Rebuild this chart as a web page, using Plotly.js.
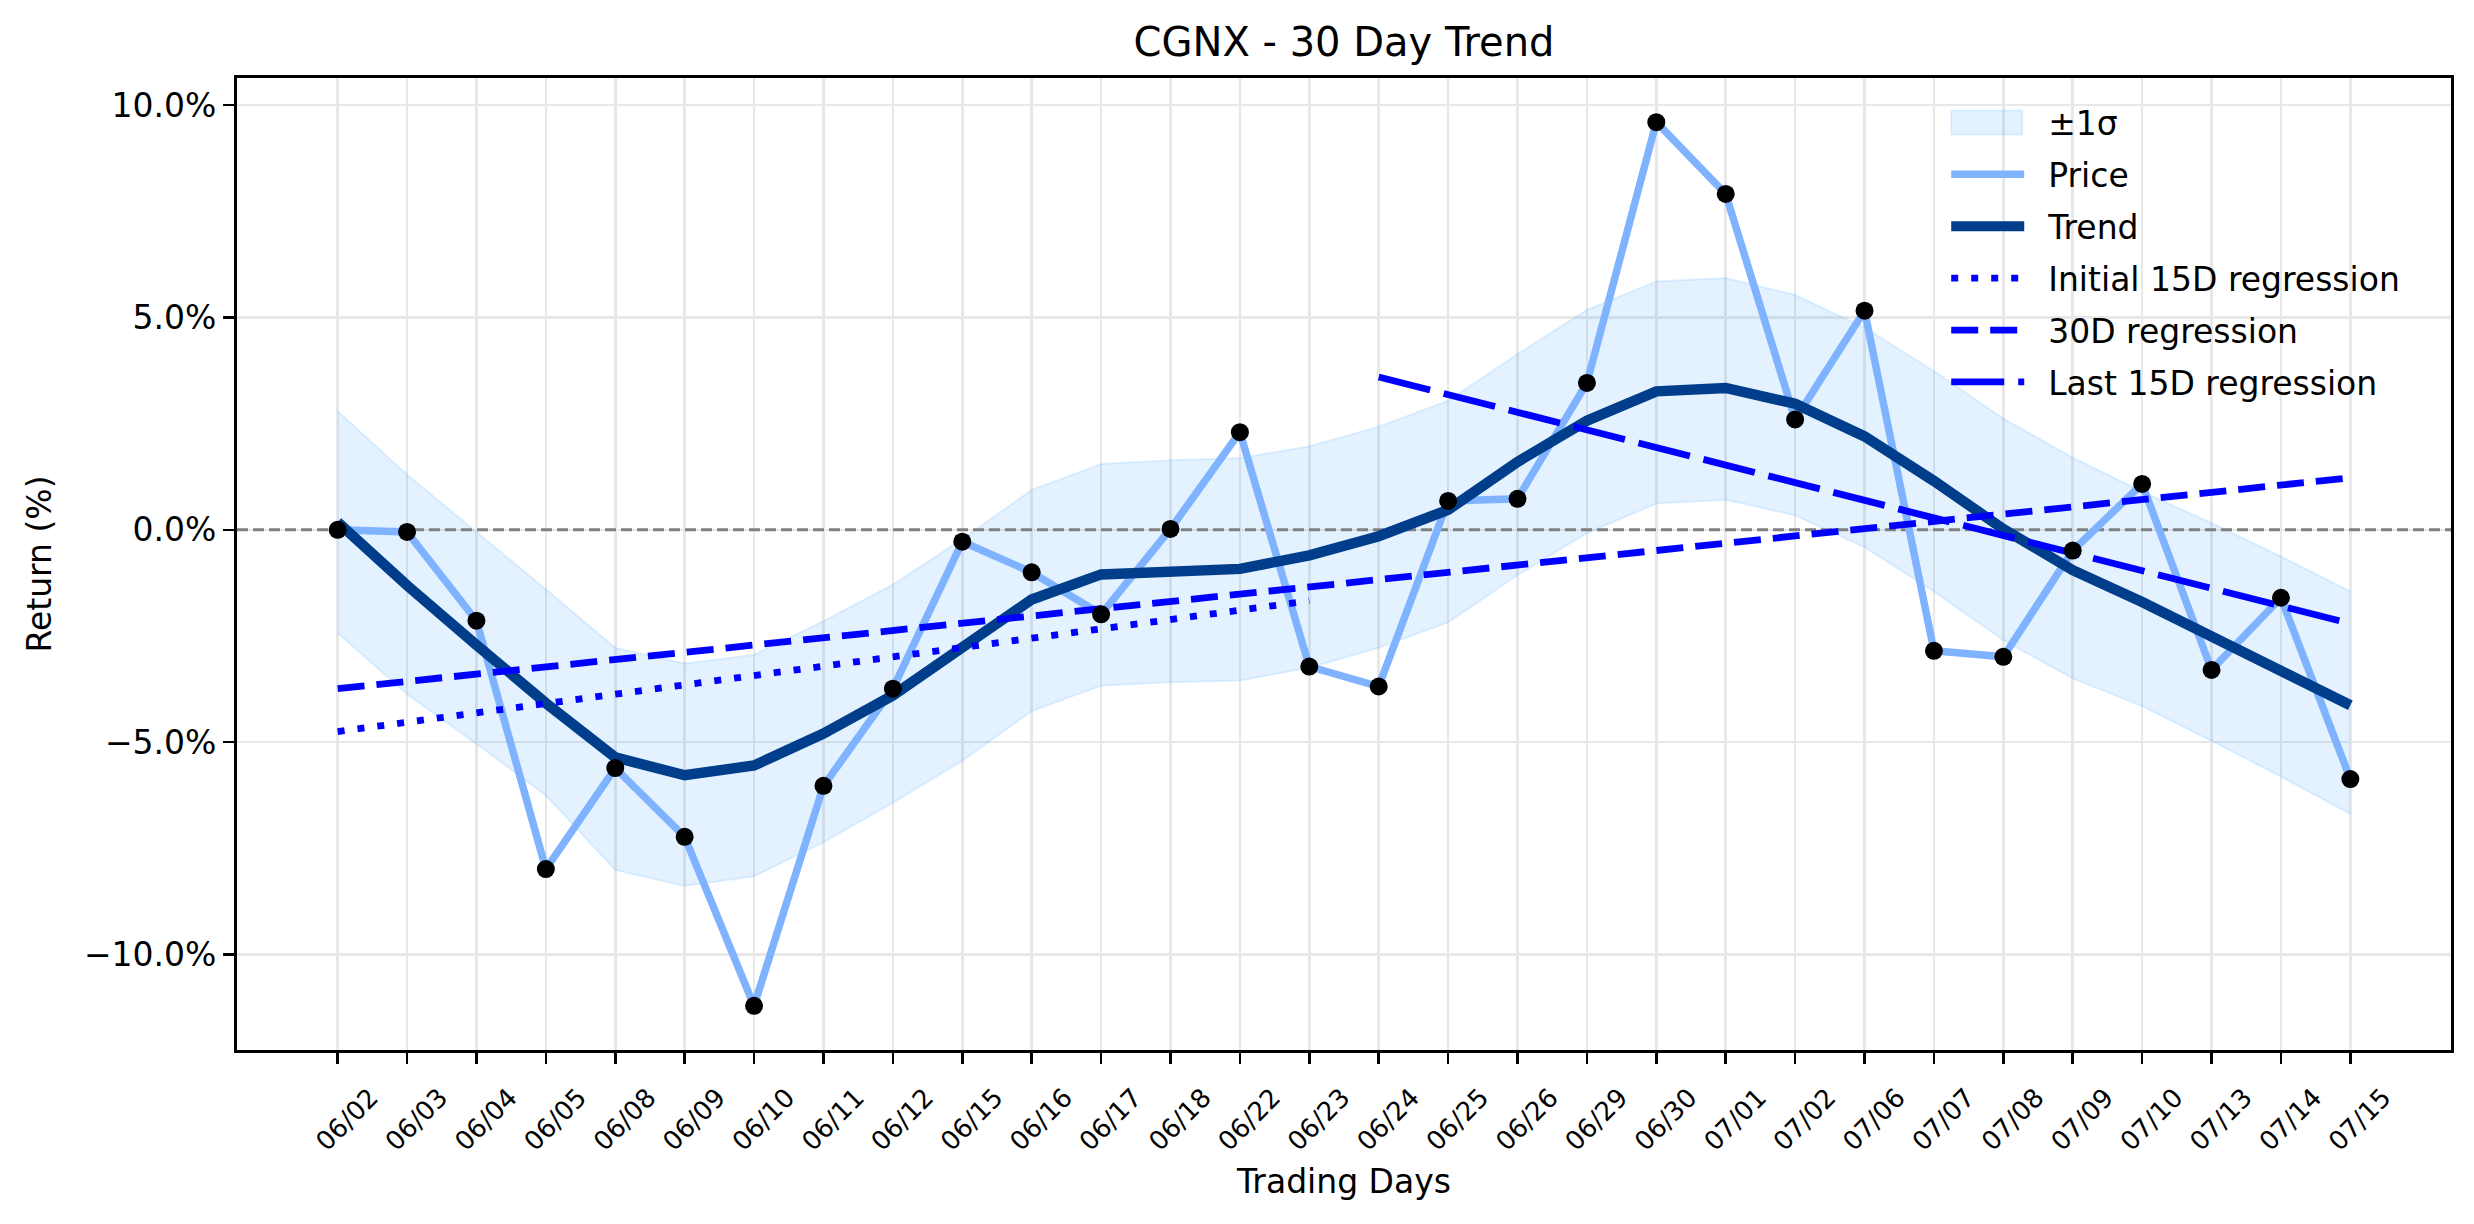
<!DOCTYPE html>
<html>
<head>
<meta charset="utf-8">
<script src="https://cdn.plot.ly/plotly-3.0.1.min.js"></script>
<style>html,body{margin:0;padding:0;background:#fff;}</style>
</head>
<body>
<div id="chart" style="width:2474px;height:1224px;"></div>
<script>
const dates = ["06/02","06/03","06/04","06/05","06/08","06/09","06/10","06/11","06/12","06/15",
  "06/16","06/17","06/18","06/22","06/23","06/24","06/25","06/26","06/29","06/30",
  "07/01","07/02","07/06","07/07","07/08","07/09","07/10","07/13","07/14","07/15"];
const price = [0.00,-0.05,-2.14,-7.99,-5.61,-7.23,-11.21,-6.03,-3.74,-0.28,
  -1.00,-1.99,0.02,2.30,-3.22,-3.69,0.68,0.73,3.46,9.60,
  7.91,2.60,5.16,-2.85,-2.99,-0.49,1.08,-3.30,-1.60,-5.87];
const trend = [0.18,-1.31,-2.71,-4.08,-5.36,-5.78,-5.55,-4.80,-3.90,-2.80,
  -1.64,-1.05,-0.97,-0.92,-0.60,-0.15,0.47,1.60,2.57,3.26,
  3.34,2.97,2.20,1.15,0.02,-0.95,-1.70,-2.50,-3.33,-4.13];
const bandUpper = [2.79,1.30,-0.05,-1.40,-2.78,-3.15,-2.94,-2.15,-1.29,-0.22,
  0.94,1.55,1.64,1.69,1.97,2.43,3.04,4.14,5.18,5.85,
  5.93,5.53,4.76,3.74,2.62,1.70,0.90,0.16,-0.63,-1.45];
const bandLower = [-2.43,-3.87,-5.04,-6.25,-8.01,-8.39,-8.16,-7.36,-6.43,-5.44,
  -4.27,-3.67,-3.59,-3.55,-3.25,-2.78,-2.18,-1.07,-0.08,0.62,
  0.71,0.34,-0.41,-1.45,-2.60,-3.50,-4.15,-4.97,-5.81,-6.69];
const yTickVals = [-10, -5, 0, 5, 10];
const yTickText = ["\u221210.0%", "\u22125.0%", "0.0%", "5.0%", "10.0%"];
const xRange = [-1.45, 30.45];
const yRange = [-12.25, 10.64];
const zeroLevel = 0;

const idx = dates.map((d, i) => i);

// least-squares regression of price over an index window [a, b]
function regress(a, b) {
  const xs = idx.slice(a, b + 1), ys = price.slice(a, b + 1);
  const n = xs.length;
  const mx = xs.reduce((s, v) => s + v, 0) / n;
  const my = ys.reduce((s, v) => s + v, 0) / n;
  let sxy = 0, sxx = 0;
  for (let i = 0; i < n; i++) { sxy += (xs[i] - mx) * (ys[i] - my); sxx += (xs[i] - mx) ** 2; }
  const k = sxy / sxx, c = my - k * mx;
  return { x: xs, y: xs.map(v => c + k * v) };
}
const regInit = regress(0, 14);
const reg30 = regress(0, 29);
const regLast = regress(15, 29);

const F = "DejaVu Sans, Liberation Sans, sans-serif";
const bandCol = "rgba(30,144,255,0.12)";

const traces = [
  { x: idx, y: bandLower, mode: "lines", line: { color: bandCol, width: 2 }, showlegend: false, hoverinfo: "skip", legendgroup: "g0" },
  { x: idx, y: bandUpper, mode: "lines", fill: "tonexty", fillcolor: bandCol, line: { color: bandCol, width: 2 }, name: "\u00b11\u03c3", legendgroup: "g0" },
  { x: xRange, y: xRange.map(() => zeroLevel), mode: "lines", line: { color: "#808080", width: 3, dash: "11px,5px" }, showlegend: false, hoverinfo: "skip", cliponaxis: true },
  { x: idx, y: price, mode: "lines", line: { color: "#80b3ff", width: 7.5 }, name: "Price", legendgroup: "g1" },
  { x: idx, y: trend, mode: "lines", line: { color: "#003d8a", width: 10.5 }, name: "Trend", legendgroup: "g2" },
  { x: regInit.x, y: regInit.y, mode: "lines", line: { color: "#0000ff", width: 6.8, dash: "7px,13px" }, name: "Initial 15D regression", legendgroup: "g3" },
  { x: reg30.x, y: reg30.y, mode: "lines", line: { color: "#0000ff", width: 6.8, dash: "27px,12px" }, name: "30D regression", legendgroup: "g4" },
  { x: regLast.x, y: regLast.y, mode: "lines", line: { color: "#0000ff", width: 6.8, dash: "53px,14px" }, name: "Last 15D regression", legendgroup: "g5" },
  { x: idx, y: price, mode: "markers", marker: { color: "#000000", size: 18 }, showlegend: false, name: "Close" }
];

const layout = {
  width: 2474, height: 1224,
  margin: { l: 237, r: 23, t: 78, b: 174 },
  paper_bgcolor: "#ffffff", plot_bgcolor: "#ffffff",
  font: { family: F, color: "#000000", size: 33 },
  title: { text: "CGNX - 30 Day Trend", font: { family: F, size: 40, color: "#000" }, x: 0.5, xref: "paper", xanchor: "center", y: 0.9655, yref: "container", yanchor: "middle" },
  xaxis: {
    range: xRange, tickmode: "array", tickvals: idx, ticktext: dates,
    tickangle: -45, tickfont: { family: F, size: 26, color: "#000" }, ticklabelshift: 33, ticklabelstandoff: 8,
    ticks: "outside", ticklen: 11, tickwidth: 2.6, tickcolor: "#000",
    showline: true, linewidth: 3, linecolor: "#000", mirror: true,
    showgrid: true, gridcolor: "#e8e8e8", gridwidth: 2.6, zeroline: false,
    title: { text: "Trading Days", font: { family: F, size: 33, color: "#000" }, standoff: 15 }
  },
  yaxis: {
    range: yRange, tickmode: "array", tickvals: yTickVals, ticktext: yTickText,
    tickfont: { family: F, size: 33, color: "#000" },
    ticks: "outside", ticklen: 11, tickwidth: 2.6, tickcolor: "#000",
    showline: true, linewidth: 3, linecolor: "#000", mirror: true,
    showgrid: true, gridcolor: "#e8e8e8", gridwidth: 2.6, zeroline: false,
    title: { text: "Return (%)", font: { family: F, size: 33, color: "#000" }, standoff: 23 }
  },
  legend: {
    x: 0.772, y: 0.983, xanchor: "left", yanchor: "top",
    bgcolor: "rgba(0,0,0,0)", borderwidth: 0,
    font: { family: F, size: 33, color: "#000" },
    itemwidth: 73, tracegroupgap: 6
  },
  showlegend: true
};

Plotly.newPlot("chart", traces, layout, { displayModeBar: false, staticPlot: true }).then(function (gd) {
  // matplotlib-like legend: wider gap before the text, rectangular patch for the band
  gd.querySelectorAll(".legend [clip-path]").forEach(function (el) { el.removeAttribute("clip-path"); });
  gd.querySelectorAll(".legend .legendtext").forEach(function (t) {
    const x = parseFloat(t.getAttribute("x") || "0");
    t.setAttribute("x", x + 19);
  });
  const items = gd.querySelectorAll(".legend .traces");
  if (items.length) {
    const first = items[0];
    first.querySelectorAll(".legendfill path").forEach(function (p) {
      p.setAttribute("d", "M5,-12h71v24h-71z");
      p.style.stroke = "rgba(30,144,255,0.12)";
      p.style.strokeWidth = "2px";
    });
    first.querySelectorAll(".legendlines path").forEach(function (p) { p.style.display = "none"; });
  }
});
</script>
</body>
</html>
